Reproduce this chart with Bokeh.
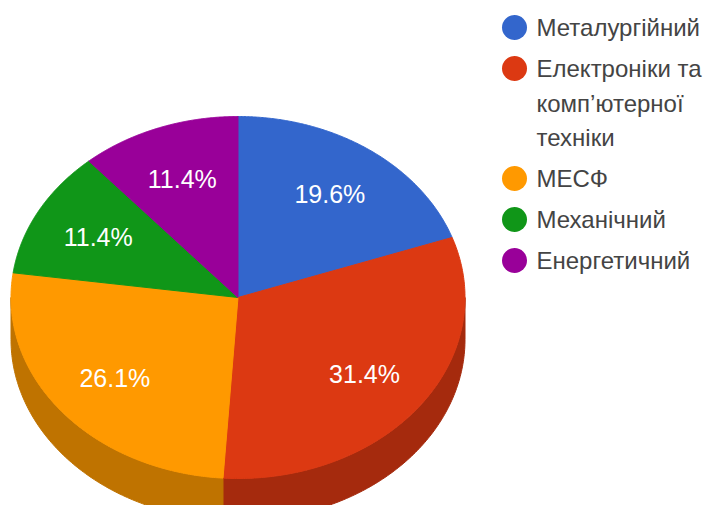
import numpy as np
from bokeh.plotting import figure
from bokeh.models import Range1d
from bokeh.embed import file_html
from bokeh.resources import INLINE
from bokeh.core.properties import value

# ---- data ----
categories = ["Металургійний", "Електроніки та\nкомп’ютерної\nтехніки", "МЕСФ", "Механічний", "Енергетичний"]
shares = [19.6, 31.4, 26.1, 11.4, 11.4]
pct_labels = ["19.6%", "31.4%", "26.1%", "11.4%", "11.4%"]
colors = ["#3366CC", "#DC3912", "#FF9900", "#109618", "#990099"]
side_colors = ["#264C99", "#A52A0D", "#BF7300", "#0C7012", "#720072"]

# ---- layout constants ----
W, H = 704, 505
CX, CY, RX, RY, DEPTH = 237.5, 297.0, 227.0, 181.0, 42.0
FONT = value("Liberation Sans")

p = figure(width=W, height=H, output_backend="svg", toolbar_location=None,
           x_range=Range1d(0, W), y_range=Range1d(H, 0),
           x_axis_type=None, y_axis_type=None, min_border=0,
           outline_line_color=None, background_fill_color="white")
p.grid.visible = False


def pt(theta, dy=0.0, f=1.0):
    return CX + f * RX * np.sin(theta), CY - f * RY * np.cos(theta) + dy


frac = np.array(shares) / np.sum(shares)
ends = np.cumsum(frac) * 2 * np.pi
starts = ends - frac * 2 * np.pi

# side walls (front half only)
sx, sy, sc = [], [], []
for a0, b0, c in zip(starts, ends, side_colors):
    a, b = max(a0, np.pi / 2), min(b0, 3 * np.pi / 2)
    if a < b:
        ts = np.linspace(a, b, 120)
        tx, ty = pt(ts)
        bx, by = pt(ts[::-1], dy=DEPTH)
        sx.append(list(tx) + list(bx))
        sy.append(list(ty) + list(by))
        sc.append(c)
p.patches(sx, sy, fill_color=sc, line_color=sc, line_width=1)

# top face
wx, wy = [], []
for a, b in zip(starts, ends):
    ts = np.linspace(a, b, 200)
    ax, ay = pt(ts)
    wx.append([CX] + list(ax))
    wy.append([CY] + list(ay))
p.patches(wx, wy, fill_color=colors, line_color=colors, line_width=1)

# percentage labels
mids = (starts + ends) / 2
lx, ly = pt(mids, f=0.7)
p.text(x=list(lx), y=list(ly), text=pct_labels, text_color="white",
       text_font=FONT, text_font_size="25px", text_align="center", text_baseline="middle")

# legend
mx, my, tx_, ty_, tt = [], [], [], [], []
y = 27.0
for cat in categories:
    lines = cat.split("\n")
    mx.append(514.0)
    my.append(y)
    for i, ln in enumerate(lines):
        tx_.append(536.0)
        ty_.append(y + i * 34.5)
        tt.append(ln)
    y += 41.0 + 34.5 * (len(lines) - 1)
p.scatter(x=mx, y=my, size=25, marker="circle", fill_color=colors, line_color=None)
p.text(x=tx_, y=ty_, text=tt, text_color="#444444", text_font=FONT,
       text_font_size="24px", text_align="left", text_baseline="middle")

open("out.html", "w").write(file_html(p, INLINE))
